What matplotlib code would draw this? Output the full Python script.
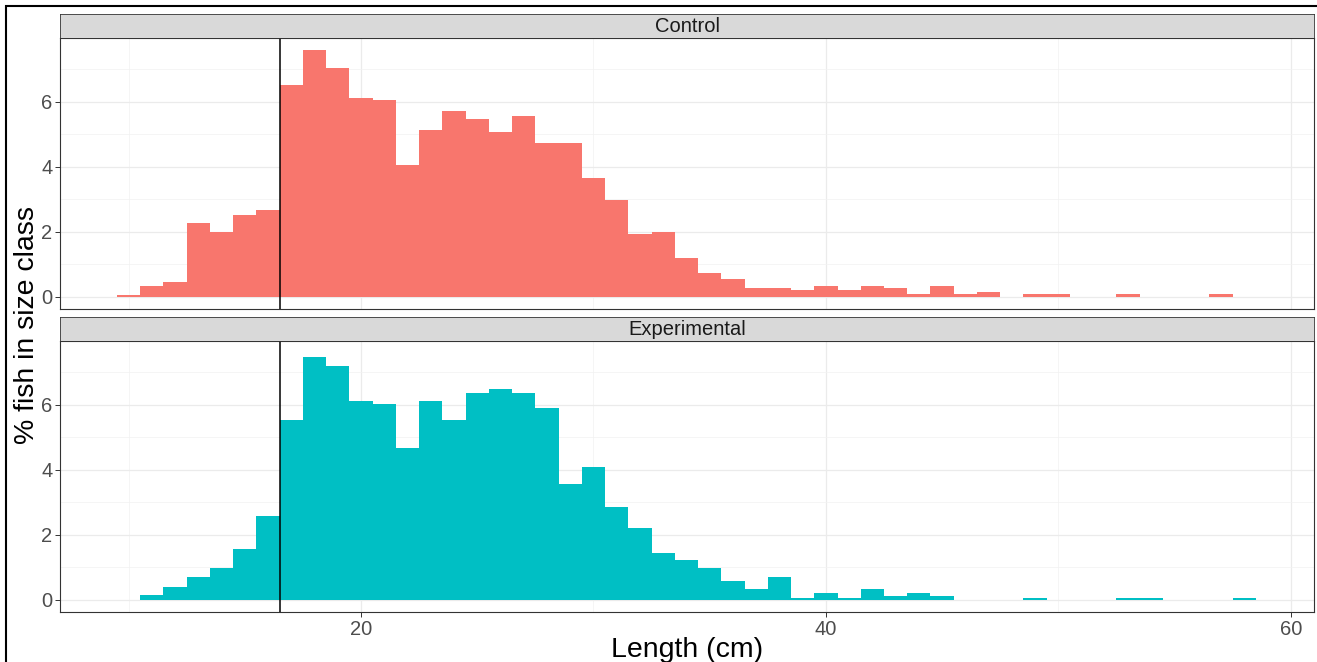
# 體長分布直方圖 (Control / Experimental)
import matplotlib
matplotlib.use('Agg')
import matplotlib.pyplot as plt
from matplotlib.patches import Rectangle

plt.rcParams['font.family'] = ['Liberation Sans', 'DejaVu Sans']

# 資料: 每 1 cm 一格, 中心 10..58 cm
length_bins = list(range(10, 59))
control_pct = [0.06, 0.33, 0.46, 2.27, 2.00, 2.53, 2.67, 6.53, 7.59, 7.06,
               6.12, 6.06, 4.06, 5.13, 5.72, 5.46, 5.06, 5.58, 4.72, 4.72,
               3.66, 2.98, 1.94, 1.99, 1.20, 0.72, 0.53, 0.27, 0.27, 0.20,
               0.33, 0.20, 0.33, 0.27, 0.07, 0.33, 0.07, 0.13, 0.00, 0.07,
               0.07, 0.00, 0.00, 0.07, 0.00, 0.00, 0.00, 0.07, 0.00]
experimental_pct = [0.00, 0.15, 0.39, 0.69, 0.98, 1.57, 2.57, 5.55, 7.49, 7.20,
                    6.13, 6.02, 4.67, 6.13, 5.55, 6.37, 6.48, 6.37, 5.91, 3.56,
                    4.08, 2.86, 2.21, 1.45, 1.22, 0.97, 0.58, 0.33, 0.69, 0.05,
                    0.22, 0.05, 0.33, 0.11, 0.22, 0.11, 0.00, 0.00, 0.00, 0.05,
                    0.00, 0.00, 0.00, 0.05, 0.05, 0.00, 0.00, 0.00, 0.05]
panel_names = ['Control', 'Experimental']
panel_colors = ['#F8766D', '#00BFC4']
cutoff = 16.5

W, H = 1317, 662
fig = plt.figure(figsize=(W / 100, H / 100), dpi=100)

left, right = 60, 1314
panels = [(38, 309), (341, 612)]   # 像素: 上緣, 下緣
strip_h = 24

for i, (name, color, vals) in enumerate(zip(panel_names, panel_colors,
                                             [control_pct, experimental_pct])):
    top, bottom = panels[i]
    ax = fig.add_axes([left / W, 1 - bottom / H, (right - left) / W, (bottom - top) / H])
    ax.bar(length_bins, vals, width=1.0, color=color, linewidth=0, zorder=2)
    ax.axvline(cutoff, color='black', lw=1.1, zorder=3)

    ax.set_xlim(7.05, 61.0)
    ax.set_ylim(-0.38, 7.97)
    ax.set_xticks([20, 40, 60])
    ax.set_xticks([10, 30, 50], minor=True)
    ax.set_yticks([0, 2, 4, 6])
    ax.set_yticks([1, 3, 5, 7], minor=True)
    ax.grid(which='major', color='#EBEBEB', lw=0.9)
    ax.grid(which='minor', color='#F2F2F2', lw=0.5)
    ax.set_axisbelow(True)
    ax.tick_params(which='minor', length=0)
    ax.tick_params(which='major', length=3.5, width=0.7, color='#333333',
                   labelcolor='#4D4D4D', labelsize=14.5, pad=2)
    if i == 0:
        ax.tick_params(axis='x', which='major', length=0, labelbottom=False)
    for s in ax.spines.values():
        s.set_color('#333333')
        s.set_linewidth(0.8)

    # facet 標籤
    sax = fig.add_axes([left / W, 1 - top / H, (right - left) / W, strip_h / H])
    sax.set_facecolor('#D9D9D9')
    sax.set_xticks([])
    sax.set_yticks([])
    for s in sax.spines.values():
        s.set_color('#333333')
        s.set_linewidth(0.6)
    sax.text(0.5, 0.48, name, ha='center', va='center', fontsize=14.5,
             color='#1A1A1A', transform=sax.transAxes)

fig.text(27 / W, 1 - 325 / H, '% fish in size class', rotation=90,
         ha='center', va='center', fontsize=20.5, color='black')
fig.text(687 / W, 1 - 657 / H, 'Length (cm)', ha='center', va='baseline',
         fontsize=20.5, color='black')

# 外框
fig.add_artist(Rectangle((6 / W, -0.05), 1.1, 1 - 6 / H + 0.05,
                         transform=fig.transFigure, fill=False,
                         ec='black', lw=1.5))

plt.savefig('out.png', dpi=100)
